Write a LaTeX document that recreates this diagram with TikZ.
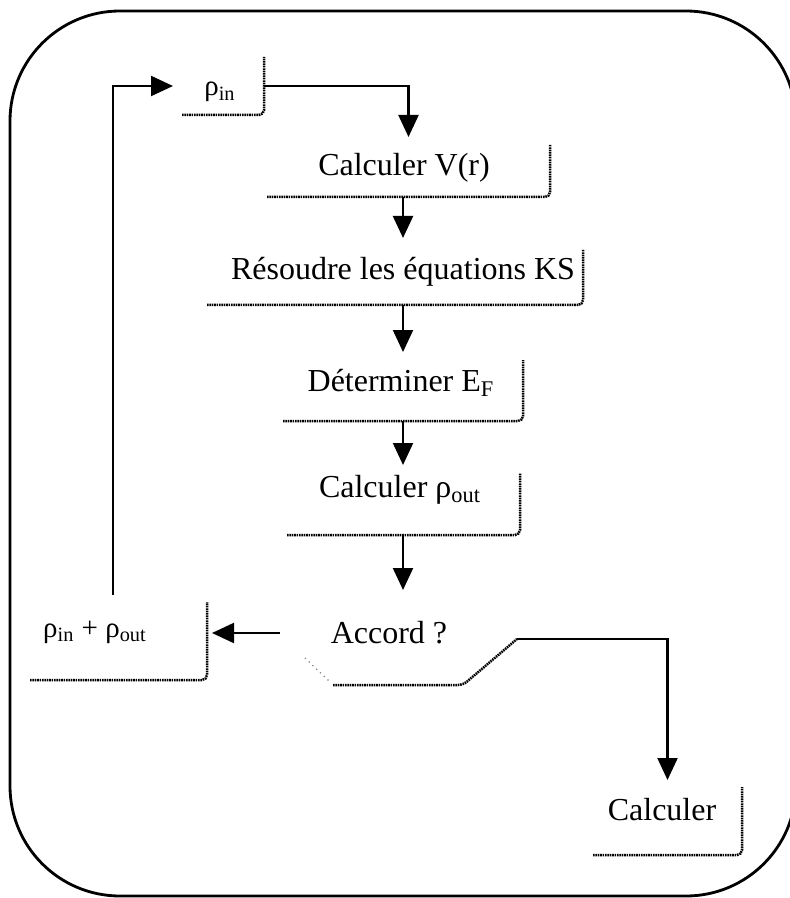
\documentclass[tikz,border=0pt]{standalone}
\usepackage{fontspec}
\setmainfont{Liberation Serif}
\usetikzlibrary{arrows.meta,fit}
\begin{document}
\begin{tikzpicture}[x=0.5pt,y=-0.5pt,
  frame/.style={line width=1.4pt, rounded corners=55pt},
  boxnode/.style={inner sep=0pt, outer sep=0pt},
  dotedge/.style={line width=1.25pt, dash pattern=on 0.8pt off 0.4pt, rounded corners=2.5pt},
  faintdots/.style={line width=0.6pt, dash pattern=on 0.6pt off 2pt, gray},
  arr/.style={line width=1.1pt, -{Triangle[length=11pt,width=10pt]}},
  lbl/.style={inner sep=0pt, font=\fontsize{16}{19}\selectfont},
  rlbl/.style={inner sep=0pt, font=\fontsize{14.5}{17}\selectfont}]
\useasboundingbox (0,0) rectangle (790,898);
\draw[frame] (10,11) rectangle (796,896);

% boxes (only right and bottom edges are drawn)
\node[boxnode, fit={(182,57) (264,115)}] (B0) {};
\node[boxnode, fit={(267,145) (550,197)}] (B1) {};
\node[boxnode, fit={(207,250) (583,305)}] (B2) {};
\node[boxnode, fit={(283,360) (523,421)}] (B3) {};
\node[boxnode, fit={(287,473) (520,535)}] (B4) {};
\node[boxnode, fit={(305,598) (517,685)}] (B5) {};
\node[boxnode, fit={(30,602) (207,680)}] (B6) {};
\node[boxnode, fit={(593,787) (742,855)}] (B7) {};

% texts
\node[rlbl] (T0) at (220,92) {ρ\textsubscript{in}};
\node[lbl] (T1) at (404,168) {Calculer V(r)};
\node[lbl] (T2) at (403,272) {Résoudre les équations KS};
\node[lbl] (T3) at (401,383) {Déterminer E\textsubscript{F}};
\node[lbl] (T4) at (400,490) {Calculer ρ\textsubscript{out}};
\node[lbl] (T5) at (389,633) {Accord ?};
\node[rlbl] (T6) at (95,632) {ρ\textsubscript{in} + ρ\textsubscript{out}};
\node[lbl] (T7) at (662,810) {Calculer};

% dotted edges
\foreach \b in {B0,B1,B2,B3,B4,B6,B7}
  \draw[dotedge] (\b.south west) -| (\b.north east);
\coordinate (acc) at (517,639);
\draw[faintdots] (305,658) -- (330,682);
\draw[dotedge] (333,685) -- (463,685) -- (acc);

% connectors
\coordinate (col) at (403,0);
\coordinate (loopx) at (113,0);
\draw[arr, shorten >=4pt] (B0.east) -| (B1.north);
\draw[arr, shorten >=6pt] (B1.south -| col) -- (B2.north -| col);
\draw[arr, shorten >=4pt] (B2.south -| col) -- (B3.north -| col);
\draw[arr, shorten >=4pt] (B3.south -| col) -- (B4.north -| col);
\draw[arr, shorten >=4pt] (B4.south -| col) -- (B5.north -| col);
\draw[arr, shorten >=2.5pt] ([xshift=-12.5pt]B5.west |- T5) -- (B6.east |- T5);
\draw[arr, shorten <=3.5pt, shorten >=4.5pt] (B6.north -| loopx) |- (B0.west);
\draw[arr, shorten >=3.5pt] (acc) -| (B7.north);
\end{tikzpicture}
\end{document}
